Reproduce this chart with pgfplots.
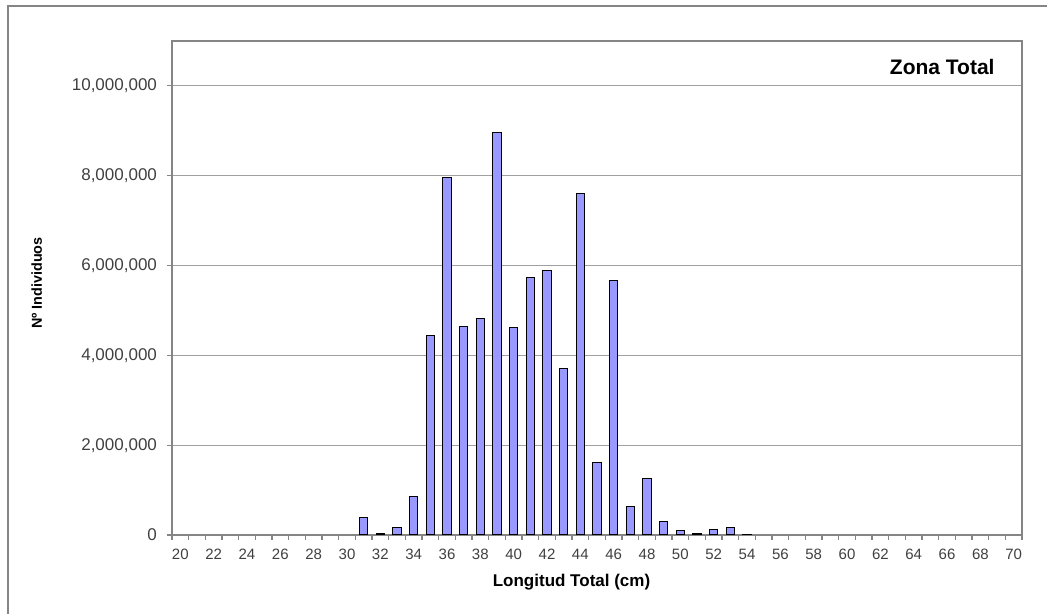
\documentclass[border=0pt]{standalone}
\usepackage{pgfplots}
\pgfplotsset{compat=1.18}
\usepackage{fontspec}
\setmainfont{Liberation Sans}
\definecolor{barblue}{HTML}{9999FF}
\definecolor{axgray}{HTML}{858585}
\definecolor{gridgray}{HTML}{A0A0A0}

\begin{document}
\begin{tikzpicture}[x=1pt,y=1pt]
\useasboundingbox (-86,-39.5) rectangle (437.5,267.5);
% outer chart frame (cropped at right and bottom in the reference)
\draw[axgray, line width=1pt] (-82,-60) -- (-82,264.5) -- (460,264.5);
\begin{axis}[
    at={(0,0)}, anchor=south west,
    scale only axis,
    width=425pt, height=247pt,
    ybar, bar width=4.2pt,
    xmin=19.5, xmax=70.5,
    ymin=0, ymax=11000000,
    xtick={20,22,...,70},
    minor xtick={19.5,20.5,...,70.5},
    ytick={0,2000000,4000000,6000000,8000000,10000000},
    scaled y ticks=false,
    yticklabel style={/pgf/number format/fixed, /pgf/number format/1000 sep={,},
        /pgf/number format/assume math mode=true,
        font=\fontsize{8.5}{10}\selectfont, text=black!75, xshift=-1.5pt},
    xticklabel style={/pgf/number format/assume math mode=true,
        font=\fontsize{7.5}{9}\selectfont, text=black!75, yshift=-1pt},
    tick align=outside,
    major x tick style={draw=none},
    minor x tick style={axgray, line width=0.6pt},
    major y tick style={axgray, line width=0.6pt},
    major tick length=2.5pt, minor tick length=2.5pt,
    ytick pos=left, xtick pos=bottom,
    axis line style={axgray, line width=0.8pt},
    ymajorgrids, grid style={gridgray, line width=0.6pt},
    xlabel={\textbf{Longitud Total (cm)}},
    ylabel={\textbf{Nº Individuos}},
    xlabel style={font=\fontsize{8.5}{10}\selectfont, at={(axis description cs:0.47,0)}, anchor=center, yshift=-23.5pt},
    ylabel style={font=\fontsize{7.2}{9}\selectfont, at={(axis description cs:-0.159,0.51)}, anchor=center},
    clip=false,
]
\addplot[fill=barblue, draw=black, line width=0.5pt] coordinates {
(31,390000) (32,30000) (33,170000) (34,850000) (35,4450000) (36,7970000)
(37,4640000) (38,4810000) (39,8970000) (40,4620000) (41,5730000) (42,5880000)
(43,3700000) (44,7610000) (45,1620000) (46,5660000) (47,630000) (48,1250000)
(49,300000) (50,90000) (51,30000) (52,130000) (53,170000) (54,10000)
};
\node[anchor=east, font=\fontsize{10.5}{12}\selectfont\bfseries] at (axis description cs:0.976,0.947) {Zona Total};
\end{axis}
\end{tikzpicture}
\end{document}
